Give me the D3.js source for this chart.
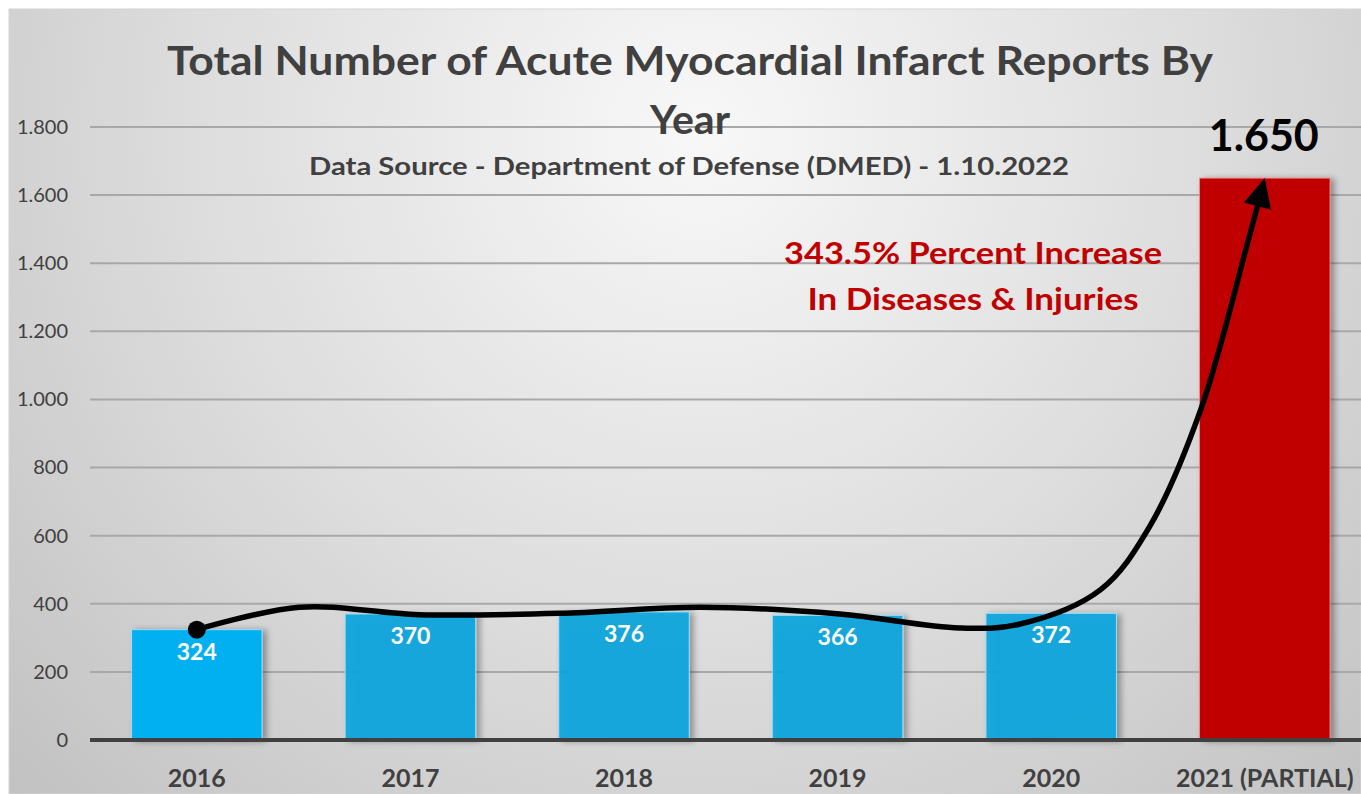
<!DOCTYPE html>
<html>
<head>
<meta charset="utf-8">
<script src="https://cdn.jsdelivr.net/npm/d3@7"></script>
<style>
  body { margin: 0; background: #fff; }
  text { font-family: Lato, "Open Sans", sans-serif; }
</style>
</head>
<body>
<svg id="chart" width="1361" height="794"></svg>
<script>
// data
var years = ["2016", "2017", "2018", "2019", "2020", "2021 (PARTIAL)"];
var reports = [324, 370, 376, 366, 372, 1650];
var yTicks = [0, 200, 400, 600, 800, 1000, 1200, 1400, 1600, 1800];
// trend arrow drawn over the bars: [bar index, value]
var arrowPath = [[0, 324], [0.48, 390], [1.04, 368], [1.7, 372], [2.36, 390], [3.01, 370],
                 [3.57, 329], [3.85, 340], [4.23, 441], [4.46, 626], [4.70, 970], [4.92, 1461], [5.0, 1650]];

var width = 1361, height = 794;
var svg = d3.select("#chart");

var defs = svg.append("defs");
var grad = defs.append("radialGradient")
    .attr("id", "bg")
    .attr("gradientUnits", "userSpaceOnUse")
    .attr("cx", 700).attr("cy", 130).attr("r", 950);
grad.append("stop").attr("offset", "0").attr("stop-color", "#f8f8f8");
grad.append("stop").attr("offset", "0.55").attr("stop-color", "#dcdcdc");
grad.append("stop").attr("offset", "1").attr("stop-color", "#c2c2c2");

var shadow = defs.append("filter").attr("id", "shadow")
    .attr("x", "-20%").attr("y", "-20%").attr("width", "140%").attr("height", "140%");
shadow.append("feDropShadow")
    .attr("dx", 4).attr("dy", 1).attr("stdDeviation", 3)
    .attr("flood-color", "#000").attr("flood-opacity", 0.35);

svg.append("rect")
    .attr("x", 9).attr("y", 9)
    .attr("width", width - 9).attr("height", height - 9)
    .attr("fill", "url(#bg)")
    .attr("stroke", "#d4d4d4").attr("stroke-width", 1);

var x = d3.scaleBand()
    .domain(years)
    .range([90, 90 + 6 * 213.6])
    .paddingInner(0.389)
    .paddingOuter(0.1945);

var y = d3.scaleLinear().domain([0, 1800]).range([740, 127]);

// gridlines
svg.append("g").selectAll("line")
    .data(yTicks.filter(function(d) { return d > 0; }))
    .enter().append("line")
    .attr("x1", 90).attr("x2", width)
    .attr("y1", function(d) { return y(d); })
    .attr("y2", function(d) { return y(d); })
    .attr("stroke", "#a8a8a8").attr("stroke-width", 2);

// y tick labels
var yAxis = svg.append("g")
    .attr("transform", "translate(78,0)")
    .call(d3.axisLeft(y).tickValues(yTicks).tickSize(0).tickPadding(10)
      .tickFormat(function(d) { return d3.format(",")(d).replace(",", "."); }));
yAxis.select(".domain").remove();
yAxis.selectAll("text")
    .attr("font-size", 20)
    .attr("fill", "#404040")
    .style("font-family", "Lato, sans-serif");

// title
svg.append("text")
    .attr("x", 690).attr("y", 75)
    .attr("text-anchor", "middle")
    .attr("font-size", 40).attr("font-weight", "bold")
    .attr("fill", "#404040")
    .attr("textLength", 1046).attr("lengthAdjust", "spacingAndGlyphs")
    .text("Total Number of Acute Myocardial Infarct Reports By");
svg.append("text")
    .attr("x", 690).attr("y", 134)
    .attr("text-anchor", "middle")
    .attr("font-size", 41).attr("font-weight", "bold")
    .attr("fill", "#404040")
    .text("Year");
svg.append("text")
    .attr("x", 689).attr("y", 175)
    .attr("text-anchor", "middle")
    .attr("font-size", 24).attr("font-weight", "bold")
    .attr("fill", "#404040")
    .attr("textLength", 760).attr("lengthAdjust", "spacingAndGlyphs")
    .text("Data Source - Department of Defense (DMED) - 1.10.2022");

// bars
var barColor = function(d, i) {
  if (i === years.length - 1) return "#c00000";
  if (i === 0) return "#00b0f0";
  return "#0ea6de";
};
svg.append("g").selectAll("rect")
    .data(reports)
    .enter().append("rect")
    .attr("x", function(d, i) { return x(years[i]); })
    .attr("y", function(d) { return y(d); })
    .attr("width", x.bandwidth())
    .attr("height", function(d) { return y(0) - y(d); })
    .attr("fill", barColor)
    .attr("fill-opacity", function(d, i) { return (i > 0 && i < years.length - 1) ? 0.93 : 1; })
    .attr("stroke", function(d, i) { return i === years.length - 1 ? "#e68a8a" : "#9fdcf4"; })
    .attr("stroke-width", 1)
    .attr("filter", "url(#shadow)");

// baseline
svg.append("line")
    .attr("x1", 90).attr("x2", width)
    .attr("y1", y(0)).attr("y2", y(0))
    .attr("stroke", "#404040").attr("stroke-width", 4);

// bar value labels
svg.append("g").selectAll("text")
    .data(reports.slice(0, 5))
    .enter().append("text")
    .attr("x", function(d, i) { return x(years[i]) + x.bandwidth() / 2; })
    .attr("y", function(d) { return y(d) + 30; })
    .attr("text-anchor", "middle")
    .attr("font-size", 23).attr("font-weight", "bold")
    .attr("fill", "#fff")
    .text(function(d) { return d; });

svg.append("text")
    .attr("x", x(years[5]) + x.bandwidth() / 2 - 1).attr("y", 151)
    .attr("text-anchor", "middle")
    .attr("font-size", 43).attr("font-weight", "bold")
    .attr("fill", "#000")
    .text(d3.format(",")(reports[5]).replace(",", "."));

// x labels
svg.append("g").selectAll("text")
    .data(years)
    .enter().append("text")
    .attr("x", function(d) { return x(d) + x.bandwidth() / 2; })
    .attr("y", 787)
    .attr("text-anchor", "middle")
    .attr("font-size", 25).attr("font-weight", "bold")
    .attr("fill", "#404040")
    .text(function(d) { return d; });

// annotation text
svg.append("text")
    .attr("x", 973).attr("y", 264)
    .attr("text-anchor", "middle")
    .attr("font-size", 30).attr("font-weight", "bold")
    .attr("fill", "#c00000")
    .attr("textLength", 378).attr("lengthAdjust", "spacingAndGlyphs")
    .text("343.5% Percent Increase");
svg.append("text")
    .attr("x", 973).attr("y", 310)
    .attr("text-anchor", "middle")
    .attr("font-size", 30).attr("font-weight", "bold")
    .attr("fill", "#c00000")
    .attr("textLength", 331).attr("lengthAdjust", "spacingAndGlyphs")
    .text("In Diseases & Injuries");

// trend arrow
var cx = function(v) { return x(years[0]) + x.bandwidth() / 2 + v * x.step(); };
var line = d3.line()
    .x(function(d) { return cx(d[0]); })
    .y(function(d) { return y(d[1]); })
    .curve(d3.curveCatmullRom.alpha(0.5));

var path = svg.append("path")
    .datum(arrowPath)
    .attr("d", line)
    .attr("fill", "none")
    .attr("stroke", "#000")
    .attr("stroke-width", 5.5);

var L = path.node().getTotalLength();
path.attr("stroke-dasharray", (L - 22) + " " + L);
var tip = [cx(arrowPath[arrowPath.length - 1][0]), y(arrowPath[arrowPath.length - 1][1])];
var base = path.node().getPointAtLength(L - 29);
var dx = tip[0] - base.x, dy = tip[1] - base.y;
var len = Math.sqrt(dx * dx + dy * dy);
var px = -dy / len * 14, py = dx / len * 14;
svg.append("polygon")
    .attr("points", [tip, [base.x + px, base.y + py], [base.x - px, base.y - py]]
      .map(function(p) { return p.join(","); }).join(" "))
    .attr("fill", "#000");

svg.append("circle")
    .attr("cx", cx(arrowPath[0][0])).attr("cy", y(arrowPath[0][1]))
    .attr("r", 9).attr("fill", "#000");
</script>
</body>
</html>
